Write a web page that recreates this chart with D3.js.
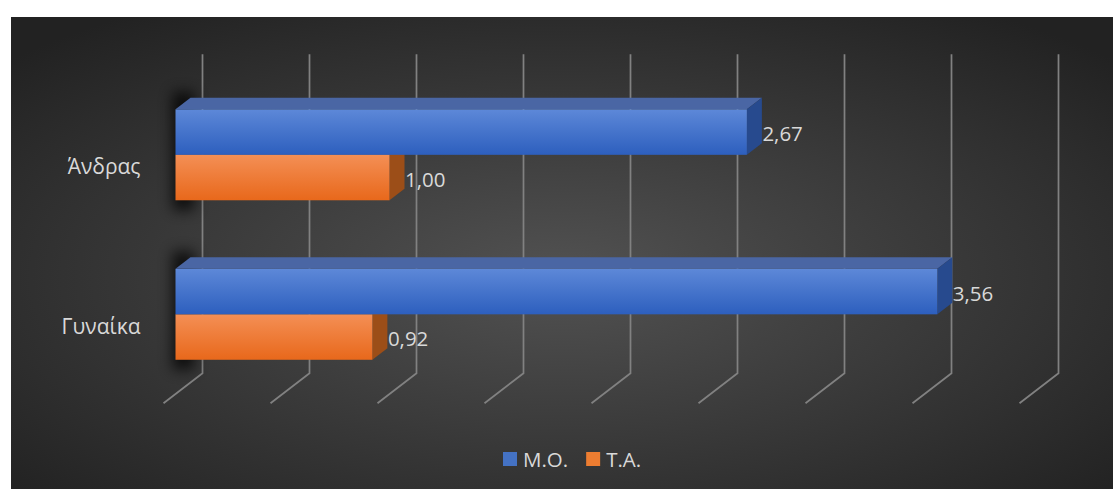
<!DOCTYPE html>
<html>
<head>
<meta charset="utf-8">
<script src="https://cdn.jsdelivr.net/npm/d3@7"></script>
<style>
html,body{margin:0;padding:0;background:#fff;}
svg{display:block;}
text{font-family:"Open Sans","Noto Sans",sans-serif;}
</style>
</head>
<body>
<svg id="chart" width="1113" height="489"></svg>
<script>
// ---- data ----
const categories = ["Άνδρας", "Γυναίκα"];
const series = ["M.O.", "T.A."];
const valuesMO = [2.67, 3.56];
const valuesTA = [1.00, 0.92];
const labelsMO = ["2,67", "3,56"];
const labelsTA = ["1,00", "0,92"];
const axisMax = 4;
const tickStep = 0.5;

const svg = d3.select("#chart");
const W = 1113, H = 489;

// ---- geometry ----
const bg = {x: 11, y: 17, w: W - 11, h: H - 17};
const depthX = 39, k = 30 / 39;           // oblique projection
const frontLeft = 163.5, frontBottom = 403.3, frontTop = 84.3;
const d1 = 12, d2 = 27;                     // bar depth range

const x = d3.scaleLinear().domain([0, axisMax]).range([frontLeft, frontLeft + 856]);
const y = d3.scaleBand().domain(categories).range([frontTop, frontBottom])
  .paddingInner(0.43).paddingOuter(0.215);
const ys = d3.scaleBand().domain(series).range([0, y.bandwidth()]);
const color = d3.scaleOrdinal().domain(series).range(["#4472c4", "#ed7d31"]);

const P = (xv, yv, d) => [xv + d, yv - d * k];

// ---- defs ----
const defs = svg.append("defs");
const rg = defs.append("radialGradient").attr("id", "bgGrad")
  .attr("cx", "50%").attr("cy", "55%").attr("r", "68%");
rg.append("stop").attr("offset", "0%").attr("stop-color", "#525252");
rg.append("stop").attr("offset", "100%").attr("stop-color", "#222222");

const faceGrads = {
  "M.O.": ["#5d88d8", "#2d5fbe"],
  "T.A.": ["#f48f55", "#e8681b"]
};
const topCol = {"M.O.": "#4a66a4", "T.A.": "#c8703a"};
const sideCol = {"M.O.": "#274a8e", "T.A.": "#9c4e18"};
series.forEach((s, i) => {
  const g = defs.append("linearGradient").attr("id", "face" + i)
    .attr("x1", 0).attr("y1", 0).attr("x2", 0).attr("y2", 1);
  g.append("stop").attr("offset", "0%").attr("stop-color", faceGrads[s][0]);
  g.append("stop").attr("offset", "100%").attr("stop-color", faceGrads[s][1]);
});
const blur = defs.append("filter").attr("id", "blur")
  .attr("x", "-100%").attr("y", "-100%").attr("width", "300%").attr("height", "300%");
blur.append("feGaussianBlur").attr("stdDeviation", 7);

// ---- background ----
svg.append("rect").attr("x", bg.x).attr("y", bg.y).attr("width", bg.w).attr("height", bg.h)
  .attr("fill", "url(#bgGrad)");

// ---- gridlines (back wall + floor) ----
const ticks = d3.range(0, axisMax + tickStep / 2, tickStep);
const grid = svg.append("g").attr("stroke", "#818181").attr("stroke-width", 1.75).attr("fill", "none");
ticks.forEach(t => {
  const a = P(x(t), frontTop, depthX), b = P(x(t), frontBottom, depthX), c = P(x(t), frontBottom, 0);
  grid.append("path").attr("d", d3.line()([a, b, c]));
});

// ---- shadows ----
categories.forEach(c => {
  const top = P(x(0), y(c), d2)[1];
  const bot = P(x(0), y(c) + y.bandwidth(), d1)[1];
  svg.append("rect").attr("x", x(0) + d1 - 3).attr("y", top - 6)
    .attr("width", 22).attr("height", bot - top + 16)
    .attr("fill", "#000").attr("opacity", 0.75).attr("filter", "url(#blur)");
});

// ---- bars ----
const rows = [];
categories.forEach((c, ci) => {
  rows.push({cat: c, s: "T.A.", si: 1, v: valuesTA[ci], label: labelsTA[ci]});
  rows.push({cat: c, s: "M.O.", si: 0, v: valuesMO[ci], label: labelsMO[ci]});
});
const bars = svg.append("g");
rows.forEach(r => {
  const yT = y(r.cat) + ys(r.s), yB = yT + ys.bandwidth();
  const x0 = x(0), xv = x(r.v);
  const g = bars.append("g");
  g.append("polygon").attr("points", [P(x0, yT, d1), P(xv, yT, d1), P(xv, yT, d2), P(x0, yT, d2)].join(" "))
    .attr("fill", topCol[r.s]);
  g.append("polygon").attr("points", [P(xv, yT, d1), P(xv, yT, d2), P(xv, yB, d2), P(xv, yB, d1)].join(" "))
    .attr("fill", sideCol[r.s]);
  const f = P(x0, yT, d1);
  g.append("rect").attr("x", f[0]).attr("y", f[1]).attr("width", xv - x0).attr("height", yB - yT)
    .attr("fill", `url(#face${r.si})`);
  // data label
  const lp = P(xv, (yT + yB) / 2, d1);
  svg.append("text").attr("x", xv + d2 + 0.5).attr("y", lp[1] + 1)
    .attr("dominant-baseline", "central").attr("fill", "#d9d9d9").attr("font-size", 20.5)
    .text(r.label);
});

// ---- category labels ----
categories.forEach(c => {
  svg.append("text").attr("x", 140.5).attr("y", y(c) + y.bandwidth() / 2 + 2)
    .attr("text-anchor", "end").attr("dominant-baseline", "central")
    .attr("fill", "#d9d9d9").attr("font-size", 21).text(c);
});

// ---- legend ----
const leg = svg.append("g").attr("transform", "translate(503,452)");
let lx = 0;
series.forEach(s => {
  const it = leg.append("g").attr("transform", `translate(${lx},0)`);
  it.append("rect").attr("width", 14).attr("height", 14).attr("fill", color(s));
  const t = it.append("text").attr("x", 20).attr("y", 7).attr("dominant-baseline", "central")
    .attr("fill", "#d9d9d9").attr("font-size", 20.5).text(s);
  lx += 20 + t.node().getComputedTextLength() + 18;
});
</script>
</body>
</html>
